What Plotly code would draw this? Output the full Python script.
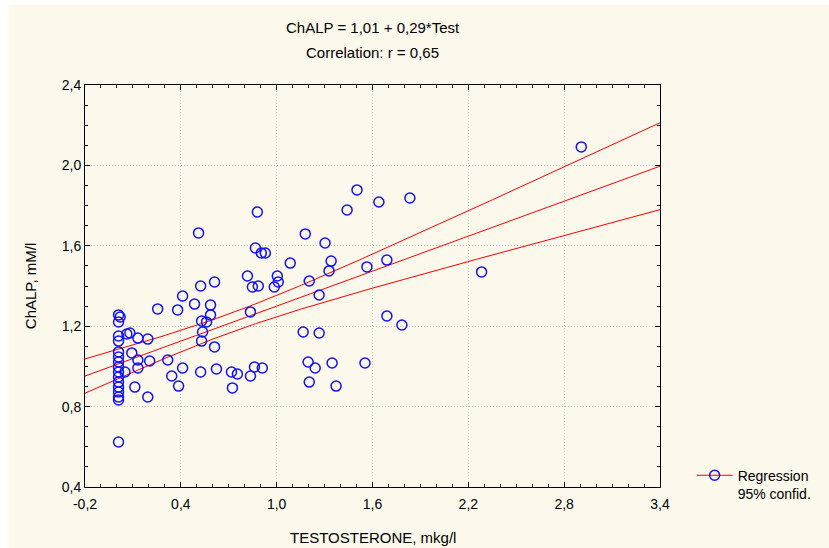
import numpy as np
import plotly.graph_objects as go

# ---- data ----
testosterone = [
    0.01, 0.02, 0.01, 0.01, 0.01, 0.01, 0.01, 0.01, 0.01, 0.01, 0.01, 0.01, 0.01, 0.01, 0.01, 0.01, 0.01,
    0.05, 0.062, 0.081, 0.093, 0.131, 0.131, 0.131, 0.112, 0.193, 0.193, 0.205, 0.255, 0.318, 0.343,
    0.380, 0.386, 0.411, 0.411, 0.486, 0.511, 0.524, 0.524, 0.530, 0.536, 0.530, 0.561, 0.586, 0.586,
    0.611, 0.611, 0.623, 0.717, 0.754, 0.723, 0.817, 0.836, 0.836, 0.848, 0.885, 0.867, 0.861, 0.910,
    0.879, 0.904, 0.929, 0.985, 1.004, 1.010, 1.085, 1.166, 1.179, 1.197, 1.204, 1.204, 1.241, 1.266,
    1.266, 1.303, 1.328, 1.341, 1.347, 1.372, 1.441, 1.503, 1.553, 1.565, 1.640, 1.690, 1.690, 1.784,
    1.834, 2.283, 2.907,
]
chalp = [
    1.256, 1.246, 1.221, 1.151, 1.126, 1.072, 1.047, 1.022, 0.997, 0.972, 0.947, 0.922, 0.897, 0.873, 0.848, 0.833, 0.624,
    0.972, 1.161, 1.166, 1.067, 1.141, 1.032, 0.992, 0.897, 1.136, 0.848, 1.027, 1.286, 1.032, 0.952,
    1.281, 0.902, 1.350, 0.992, 1.310, 1.664, 1.400, 0.972, 1.226, 1.171, 1.126, 1.221, 1.305, 1.256,
    1.420, 1.097, 0.987, 0.972, 0.962, 0.893, 1.450, 1.271, 0.952, 1.395, 1.400, 1.589, 0.997, 0.992,
    1.768, 1.564, 1.564, 1.395, 1.450, 1.420, 1.514, 1.171, 1.659, 1.022, 1.425, 0.922, 0.992, 1.355,
    1.166, 1.614, 1.475, 1.524, 1.017, 0.902, 1.778, 1.878, 1.017, 1.495, 1.818, 1.529, 1.251, 1.206,
    1.838, 1.470, 2.092,
]
intercept = 1.01
slope = 0.29
x_range = [-0.2, 3.4]
y_range = [0.4, 2.4]
x_ticks = [-0.2, 0.4, 1.0, 1.6, 2.2, 2.8, 3.4]
x_tick_labels = ["-0,2", "0,4", "1,0", "1,6", "2,2", "2,8", "3,4"]
y_ticks = [0.4, 0.8, 1.2, 1.6, 2.0, 2.4]
y_tick_labels = ["0,4", "0,8", "1,2", "1,6", "2,0", "2,4"]

# ---- regression line and 95% confidence band ----
x = np.array(testosterone)
y = np.array(chalp)
n = len(x)
resid = y - (intercept + slope * x)
s = np.sqrt(np.sum(resid ** 2) / (n - 2))
xbar = x.mean()
sxx = np.sum((x - xbar) ** 2)
t = 1.986
xl = np.linspace(x_range[0], x_range[1], 200)
yl = intercept + slope * xl
hw = t * s * np.sqrt(1.0 / n + (xl - xbar) ** 2 / sxx)

FONT = "Liberation Sans, Arial, sans-serif"
RED = "#FF0000"
BLUE = "#1010FF"

fig = go.Figure()
for yy in (yl + hw, yl, yl - hw):
    fig.add_trace(go.Scatter(x=xl, y=yy, mode="lines", line=dict(color=RED, width=1),
                             showlegend=False, hoverinfo="skip"))
fig.add_trace(go.Scatter(x=testosterone, y=chalp, mode="markers",
                         marker=dict(symbol="circle-open", size=10, color=BLUE, line=dict(width=1.5, color=BLUE)),
                         showlegend=False))
fig.add_trace(go.Scatter(x=[None], y=[None], mode="lines+markers", name="Regression<br>95% confid.",
                         line=dict(color=RED, width=1),
                         marker=dict(symbol="circle-open", size=10, color=BLUE, line=dict(width=1.5, color=BLUE))))

axis_common = dict(
    showline=True, linecolor="black", linewidth=1, mirror="ticks",
    ticks="inside", ticklen=5, tickcolor="black",
    showgrid=True, gridcolor="#C4C4C4", griddash="1px,2px", gridwidth=1,
    zeroline=False, tickfont=dict(family=FONT, size=14, color="black"),
)
fig.update_xaxes(range=x_range, tickvals=x_ticks, ticktext=x_tick_labels, ticklabelstandoff=4,
                 minor=dict(dtick=0.1, tick0=-0.2, ticks="inside", ticklen=3, tickcolor="black", showgrid=False),
                 **axis_common)
fig.update_yaxes(range=y_range, tickvals=y_ticks, ticktext=y_tick_labels,
                 minor=dict(dtick=0.1, tick0=0.4, ticks="inside", ticklen=3, tickcolor="black", showgrid=False),
                 **axis_common)

fig.update_layout(
    width=829, height=548,
    margin=dict(l=85, r=167, t=85, b=61),
    paper_bgcolor="white", plot_bgcolor="white",
    font=dict(family=FONT, size=14, color="black"),
    legend=dict(x=1.055, y=0.068, xanchor="left", yanchor="top", valign="top",
                bgcolor="rgba(0,0,0,0)", font=dict(family=FONT, size=14), itemwidth=36),
    shapes=[dict(type="rect", xref="paper", yref="paper", layer="below",
                 x0=-77 / 577, x1=1 + 170 / 577, y0=-70 / 402, y1=1 + 80 / 402,
                 fillcolor="#FDF8EC", line=dict(width=0))],
    annotations=[
        dict(text="ChALP = 1,01 + 0,29*Test", x=0.5, y=1 + 58 / 402, xref="paper", yref="paper",
             showarrow=False, yanchor="middle", font=dict(family=FONT, size=15)),
        dict(text="Correlation: r = 0,65", x=0.5, y=1 + 32 / 402, xref="paper", yref="paper",
             showarrow=False, yanchor="middle", font=dict(family=FONT, size=15)),
        dict(text="TESTOSTERONE, mkg/l", x=0.5, y=-50 / 402, xref="paper", yref="paper",
             showarrow=False, yanchor="middle", font=dict(family=FONT, size=15)),
        dict(text="ChALP, mM/l", x=-55 / 577, y=0.5, xref="paper", yref="paper", textangle=-90,
             showarrow=False, xanchor="center", yanchor="middle", font=dict(family=FONT, size=15)),
    ],
)

fig.write_html("out.html")
